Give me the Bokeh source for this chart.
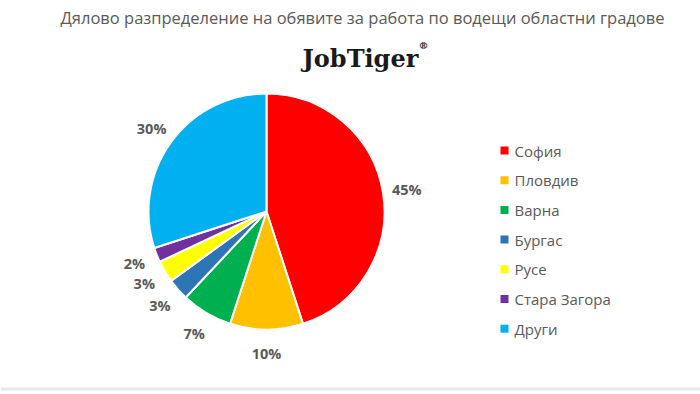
import math
from bokeh.plotting import figure
from bokeh.models import Range1d, ColumnDataSource
from bokeh.core.properties import value
from bokeh.embed import file_html
from bokeh.resources import INLINE

title_text = "Дялово разпределение на обявите за работа по водещи областни градове"
brand_text = "JobTiger"
categories = ["София", "Пловдив", "Варна", "Бургас", "Русе", "Стара Загора", "Други"]
shares = [45, 10, 7, 3, 3, 2, 30]
colors = ["#FF0000", "#FFC000", "#00B050", "#2E75B6", "#FFFF00", "#7030A0", "#00B0F0"]

W, H = 700, 394
p = figure(width=W, height=H, output_backend="svg", toolbar_location=None,
           x_range=Range1d(0, W), y_range=Range1d(0, H), min_border=0)
p.axis.visible = False
p.grid.visible = False
p.outline_line_color = None
p.background_fill_color = "white"

# pixel helpers (image coords -> data coords)
def X(xi):
    return xi
def Y(yi):
    return H - yi

cx, cy, r = X(266), Y(211), 118
total = float(sum(shares))
starts, ends, mids = [], [], []
cum = 0.0
for s in shares:
    a0 = math.pi / 2 - 2 * math.pi * cum / total
    cum += s
    a1 = math.pi / 2 - 2 * math.pi * cum / total
    starts.append(a1)
    ends.append(a0)
    mids.append((a0 + a1) / 2)

src = ColumnDataSource(dict(start=starts, end=ends, color=colors))
p.wedge(x=cx, y=cy, radius=r, start_angle="start", end_angle="end",
        fill_color="color", line_color="white", line_width=2, source=src)

d = 142
lab = ColumnDataSource(dict(
    x=[cx + d * math.cos(m) for m in mids],
    y=[cy + d * math.sin(m) for m in mids],
    t=[f"{s}%" for s in shares]))
p.text(x="x", y="y", text="t", source=lab, text_font=value("Open Sans"),
       text_font_style="bold", text_font_size="14.5px", text_color="#595959",
       text_align="center", text_baseline="middle")

# legend
ly = [Y(150 + i * 29.7) for i in range(len(categories))]
leg = ColumnDataSource(dict(x=[X(504)] * len(categories), tx=[X(514)] * len(categories),
                            y=ly, c=colors, t=categories))
p.scatter(x="x", y="y", marker="square", size=8, fill_color="c", line_color=None, source=leg)
p.text(x="tx", y="y", text="t", source=leg, text_font=value("Open Sans"),
       text_font_size="15px", text_color="#595959", text_align="left", text_baseline="middle")

# title
p.text(x=[X(362)], y=[Y(17)], text=[title_text], text_font=value("Open Sans"),
       text_font_size="16.5px", text_color="#595959", text_align="center", text_baseline="middle")
# brand
p.text(x=[X(302)], y=[Y(58)], text=[brand_text], text_font=value("DejaVu Serif"),
       text_font_style="bold", text_font_size="24px", text_color="#1a1a1a",
       text_align="left", text_baseline="alphabetic")
p.text(x=[X(418)], y=[Y(45)], text=["®"], text_font=value("DejaVu Serif"),
       text_font_style="bold", text_font_size="10px", text_color="#1a1a1a",
       text_align="left", text_baseline="middle")

# bottom separator line
p.quad(left=[0], right=[W], bottom=[Y(390)], top=[Y(387)], fill_color="#E8E8E8", line_color=None)

open("out.html", "w").write(file_html(p, INLINE))
